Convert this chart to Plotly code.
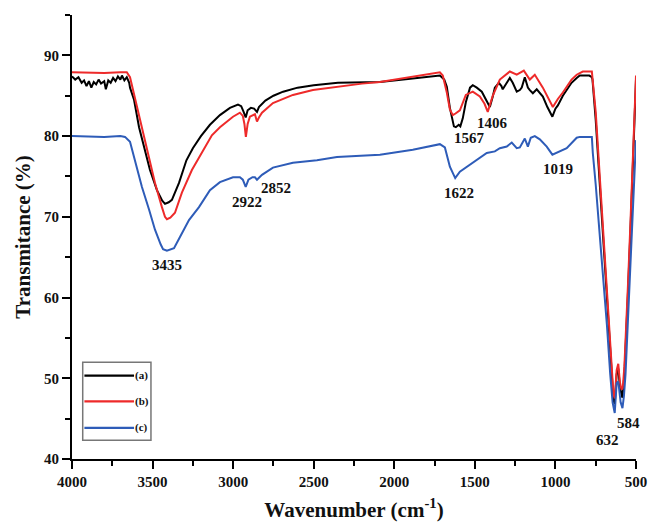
import plotly.graph_objects as go

# ---------------- data ----------------
wn_a = [4000, 3980, 3960, 3940, 3925, 3910, 3895, 3880, 3865, 3850, 3835, 3820, 3800, 3790,
        3775, 3760, 3745, 3730, 3715, 3700, 3690, 3675, 3660, 3645, 3640, 3615, 3584, 3553,
        3516, 3473, 3440, 3423, 3400, 3380, 3336, 3290, 3250, 3200, 3144, 3082, 3020, 2970,
        2950, 2935, 2922, 2910, 2890, 2870, 2852, 2840, 2800, 2750, 2690, 2600, 2500, 2350,
        2200, 2089, 1900, 1750, 1717, 1690, 1674, 1655, 1643, 1630, 1618, 1600, 1590, 1575,
        1556, 1530, 1513, 1488, 1457, 1430, 1407, 1390, 1376, 1351, 1335, 1327, 1302, 1283,
        1265, 1240, 1221, 1209, 1190, 1171, 1159, 1140, 1116, 1097, 1078, 1050, 1019, 1000,
        985, 954, 930, 900, 868, 849, 820, 790, 774, 770, 750, 725, 700, 675, 650, 640, 632,
        620, 610, 600, 590, 584, 572, 560, 550, 535, 520, 505, 500]
t_a = [87.4, 87.0, 87.3, 86.6, 86.9, 86.2, 86.8, 86.0, 86.7, 86.4, 87.0, 86.5, 86.8, 85.8,
       86.9, 86.6, 87.2, 86.8, 87.4, 87.0, 87.5, 86.9, 87.3, 86.6, 86.0, 84.5, 81.1, 78.7,
       75.8, 73.3, 72.0, 71.6, 71.8, 72.1, 74.2, 77.0, 78.5, 80.0, 81.4, 82.6, 83.5, 83.9,
       83.7, 83.0, 82.3, 83.2, 83.5, 83.4, 83.0, 83.6, 84.4, 85.0, 85.5, 86.0, 86.3, 86.6,
       86.7, 86.7, 87.1, 87.5, 87.5, 87.0, 86.1, 83.5, 82.4, 81.2, 81.1, 81.4, 81.2, 82.2,
       84.2, 86.0, 86.3, 86.0, 85.5, 84.5, 83.6, 84.8, 86.0, 86.6, 86.2, 85.8, 86.7, 87.2,
       86.6, 85.5, 85.7, 86.0, 87.3, 86.0, 85.7, 85.3, 85.8, 85.4, 84.9, 83.6, 82.4, 83.4,
       83.8, 85.0, 85.7, 86.6, 87.2, 87.5, 87.5, 87.5, 87.3, 87.0, 82.0, 74.0, 65.5, 57.5,
       49.5, 47.3, 46.8, 50.5, 51.2, 49.0, 48.0, 47.6, 50.5, 55.5, 60.5, 68.0, 76.0, 84.5, 87.0]

wn_b = [4000, 3800, 3700, 3660, 3640, 3628, 3609, 3566, 3522, 3485, 3442, 3423, 3411, 3390,
        3361, 3318, 3256, 3194, 3132, 3082, 3001, 2958, 2940, 2930, 2921, 2910, 2896, 2865,
        2852, 2840, 2821, 2753, 2629, 2505, 2356, 2200, 2089, 1900, 1750, 1717, 1699, 1674,
        1655, 1637, 1620, 1593, 1556, 1513, 1469, 1440, 1420, 1389, 1345, 1283, 1240, 1196,
        1159, 1128, 1078, 1040, 1016, 985, 954, 900, 868, 830, 774, 750, 725, 700, 675, 650,
        640, 632, 620, 610, 600, 590, 582, 572, 560, 550, 535, 520, 505, 500]
t_b = [87.9, 87.8, 87.9, 87.9, 87.3, 86.3, 84.5, 81.1, 77.4, 74.2, 71.2, 70.0, 69.7, 69.9,
       70.5, 73.0, 75.8, 77.9, 80.1, 81.1, 82.4, 82.9, 82.5, 81.5, 79.9, 81.5, 82.4, 82.7,
       81.8, 82.3, 82.9, 84.1, 85.1, 85.7, 86.1, 86.5, 86.7, 87.3, 87.8, 87.9, 87.5, 85.4,
       83.3, 82.6, 82.8, 83.2, 85.1, 85.5, 84.9, 84.0, 83.0, 85.0, 87.0, 88.0, 87.6, 88.1,
       87.0, 87.6, 86.0, 84.5, 83.6, 84.6, 85.4, 87.0, 87.6, 88.0, 88.0, 83.0, 75.0, 67.0,
       59.0, 50.5, 48.0, 47.5, 51.0, 51.8, 49.5, 48.6, 48.8, 51.5, 56.5, 61.5, 69.0, 77.0,
       85.0, 87.5]

wn_c = [4000, 3800, 3700, 3671, 3640, 3609, 3566, 3522, 3485, 3450, 3435, 3411, 3380, 3367,
        3330, 3274, 3212, 3144, 3082, 3001, 2958, 2940, 2922, 2905, 2880, 2865, 2852, 2835,
        2821, 2753, 2629, 2480, 2356, 2089, 1885, 1717, 1686, 1655, 1622, 1593, 1550, 1488,
        1426, 1376, 1345, 1302, 1271, 1240, 1221, 1190, 1171, 1153, 1128, 1097, 1054, 1019,
        985, 930, 868, 849, 774, 768, 750, 725, 700, 680, 660, 645, 632, 620, 610, 595, 584,
        575, 565, 555, 540, 525, 510, 500]
t_c = [80.0, 79.9, 80.0, 79.9, 79.3, 77.0, 73.7, 70.9, 68.4, 66.6, 66.0, 65.8, 66.0, 66.1,
       67.5, 69.6, 71.2, 73.3, 74.3, 74.9, 74.9, 74.6, 73.7, 74.6, 74.9, 74.9, 74.6, 75.0,
       75.2, 76.1, 76.7, 77.0, 77.4, 77.7, 78.3, 79.0, 78.6, 76.2, 74.8, 75.6, 76.2, 77.0,
       77.9, 78.1, 78.5, 78.7, 79.2, 78.5, 78.6, 79.7, 78.7, 79.8, 80.0, 79.6, 78.7, 77.7,
       78.0, 78.5, 79.8, 79.9, 79.9, 77.9, 74.0, 68.0, 62.0, 56.5, 50.5, 47.0, 45.7, 49.4,
       49.6, 47.0, 46.3, 47.8, 50.5, 55.0, 62.0, 69.0, 75.5, 79.5]

series_names = ["(a)", "(b)", "(c)"]
series_colors = ["#000000", "#ee2a2a", "#2e5cb8"]

peak_labels = ["3435", "2922", "2852", "1622", "1567", "1406", "1019", "632", "584"]
peak_x = [3411, 2914, 2735, 1599, 1531, 1389, 985, 675, 545]
peak_y = [64.0, 71.8, 73.6, 73.0, 79.8, 81.6, 75.9, 42.4, 44.5]

x_ticks = [4000, 3500, 3000, 2500, 2000, 1500, 1000, 500]
y_ticks = [40, 50, 60, 70, 80, 90]

SERIF = "Liberation Serif, Times New Roman, serif"

fig = go.Figure()
for wn, t, name, col in zip([wn_a, wn_b, wn_c], [t_a, t_b, t_c], series_names, series_colors):
    fig.add_trace(go.Scatter(x=wn, y=t, mode="lines", name=name,
                             line=dict(color=col, width=2), showlegend=False))

for lab, px, py in zip(peak_labels, peak_x, peak_y):
    fig.add_annotation(x=px, y=py, text=lab, showarrow=False,
                       font=dict(family=SERIF, size=15, color="#111", weight="bold"))

# custom legend box (paper coordinates)
leg_x0, leg_x1 = 0.019, 0.140
leg_y0, leg_y1 = 0.042, 0.218
fig.add_shape(type="rect", xref="paper", yref="paper", x0=leg_x0, x1=leg_x1,
              y0=leg_y0, y1=leg_y1, line=dict(color="#777", width=1.5))
leg_rows = [0.188, 0.130, 0.070]
for name, col, ry in zip(series_names, series_colors, leg_rows):
    fig.add_shape(type="line", xref="paper", yref="paper", x0=0.022, x1=0.110,
                  y0=ry, y1=ry, line=dict(color=col, width=2.2))
    fig.add_annotation(xref="paper", yref="paper", x=0.108, y=ry, text=name,
                       showarrow=False, xanchor="left", yanchor="middle",
                       font=dict(family=SERIF, size=11, color="#111", weight="bold"))

axis_common = dict(
    showline=True, linecolor="black", linewidth=2, ticks="outside",
    tickcolor="black", tickwidth=1.5, ticklen=8, showgrid=False, zeroline=False,
    tickfont=dict(family=SERIF, size=15, color="#111", weight="bold"),
    mirror=False, automargin=False,
)

fig.update_xaxes(range=[4000, 500], tickvals=x_ticks,
                 minor=dict(dtick=250, ticks="outside", ticklen=5, tickcolor="black", tickwidth=1.5),
                 title=dict(text="Wavenumber (cm<sup>-1</sup>)",
                            font=dict(family=SERIF, size=21, color="#111", weight="bold"),
                            standoff=13),
                 **axis_common)
fig.update_yaxes(range=[40, 95], tickvals=y_ticks,
                 minor=dict(dtick=5, ticks="outside", ticklen=5, tickcolor="black", tickwidth=1.5),
                 title=dict(text="Transmitance (%)",
                            font=dict(family=SERIF, size=21, color="#111", weight="bold"),
                            standoff=8),
                 **axis_common)

fig.update_layout(width=649, height=528, plot_bgcolor="white", paper_bgcolor="white",
                  margin=dict(l=72, r=13, t=15, b=69), showlegend=False)

fig.write_html("out.html")
